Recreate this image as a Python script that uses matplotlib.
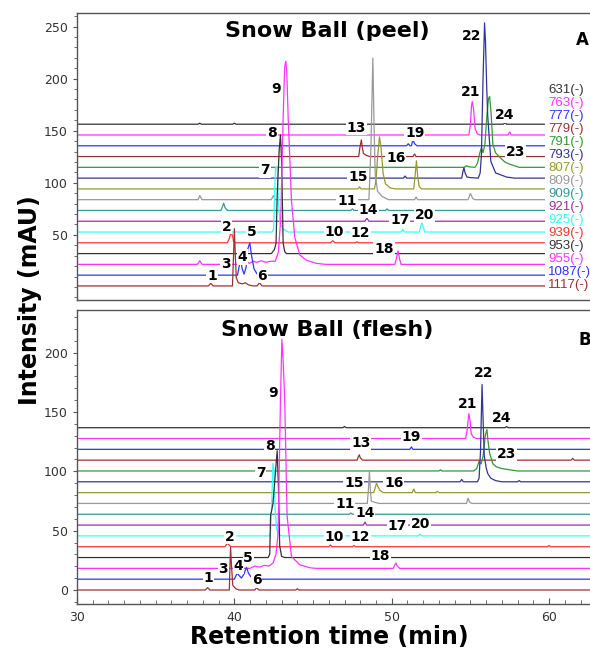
import matplotlib
matplotlib.use('Agg')
import matplotlib.pyplot as plt
from matplotlib.ticker import MultipleLocator, FixedLocator

plt.rcParams['font.family'] = 'DejaVu Sans'

# m/z channels, stacked from the top trace down to the baseline trace
channels = ['631', '763', '777', '779', '791', '793', '807', '809',
            '909', '921', '925', '939', '953', '955', '1087', '1117']
colors = ['#333333', '#ff33ff', '#3333ff', '#993333', '#339933', '#333399',
          '#999933', '#999999', '#339999', '#993399', '#33ffff', '#ff3333',
          '#333333', '#ff33ff', '#3333ff', '#993333']

# (retention time [min], intensity above the channel baseline [mAU])
peel = {
    '631': [(37.7, 0), (37.8, 1), (37.9, 0), (39.9, 0), (40.0, 1), (40.1, 0),
            (57.1, 0), (57.2, 1.5), (57.3, 0)],
    '763': [(54.9, 0), (55.0, 10), (55.07, 28), (55.12, 32), (55.2, 25), (55.3, 6),
            (55.45, 1), (55.6, 0), (57.4, 0), (57.5, 3), (57.6, 0)],
    '777': [(50.95, 0), (51.05, 2), (51.15, 0), (51.25, 0), (51.35, 6), (51.45, 2),
            (51.6, 0)],
    '779': [(47.9, 0), (47.97, 8), (48.07, 16), (48.12, 10), (48.2, 3), (48.4, 1),
            (48.6, 0), (51.35, 0), (51.45, 2.5), (51.55, 0)],
    '791': [(54.6, 0), (54.75, 1.5), (54.9, 0.5), (55.3, 0), (55.45, 4), (55.6, 14),
            (55.7, 19), (55.8, 14), (55.92, 22), (56.05, 50), (56.15, 66), (56.22, 68),
            (56.3, 55), (56.43, 22), (56.6, 14), (56.86, 9.7), (57.2, 5), (57.5, 3),
            (58.1, 0)],
    '793': [(50.75, 0), (50.85, 2), (50.95, 0), (54.45, 0), (54.52, 6), (54.59, 10),
            (54.66, 5), (54.78, 1), (55.0, 0.5), (55.5, 0), (55.62, 5), (55.7, 22),
            (55.8, 94), (55.9, 149), (55.96, 130), (56.03, 90), (56.1, 60), (56.3, 16),
            (56.6, 5), (57.3, 1), (57.8, 0)],
    '807': [(47.85, 0), (47.95, 2), (48.05, 0), (48.9, 0), (49.0, 8), (49.1, 30),
            (49.22, 50), (49.32, 40), (49.45, 15), (49.6, 5), (49.9, 1), (50.2, 0),
            (51.4, 0), (51.5, 15), (51.57, 27), (51.65, 12), (51.75, 2), (51.9, 0)],
    '809': [(37.7, 0), (37.8, 4), (37.95, 0), (42.35, 0), (42.48, 4), (42.6, 0),
            (48.55, 0), (48.68, 50), (48.8, 136), (48.88, 70), (48.95, 25), (49.1, 8),
            (49.4, 3), (49.8, 0), (51.45, 0), (51.55, 2.5), (51.65, 0), (54.85, 0),
            (55.0, 6), (55.15, 1), (55.3, 0)],
    '909': [(39.15, 0), (39.25, 4), (39.32, 7), (39.4, 3), (39.55, 0), (47.4, 0),
            (47.5, 1.5), (47.6, 0), (49.6, 0), (49.7, 1.5), (49.8, 0)],
    '921': [(48.3, 0), (48.42, 3), (48.55, 0)],
    '925': [(42.4, 0), (42.5, 3), (42.56, 40), (42.62, 62), (42.72, 62), (42.8, 30),
            (42.9, 8), (43.1, 3), (43.4, 0), (50.6, 0), (50.7, 2.5), (50.8, 0),
            (51.75, 0), (51.85, 6), (51.92, 9), (52.0, 5), (52.1, 0)],
    '939': [(39.55, 0), (39.65, 3), (39.75, 8), (39.82, 9), (39.9, 6), (39.95, 1),
            (40.05, 0), (46.1, 0), (46.25, 2), (46.4, 0), (47.7, 0), (47.8, 1),
            (47.9, 0)],
    '953': [(42.35, 0), (42.55, 4), (42.65, 10), (42.72, 55), (42.85, 100),
            (42.93, 114), (43.0, 90), (43.1, 10), (43.2, 2), (43.3, 0)],
    '955': [(37.65, 0), (37.8, 3.5), (37.95, 0), (40.6, 0), (40.75, 3), (40.95, 1),
            (41.2, 3), (41.45, 2), (41.7, 3.5), (42.0, 2), (42.3, 3), (42.6, 3),
            (42.8, 12), (42.95, 45), (43.1, 141), (43.2, 190), (43.27, 195),
            (43.33, 185), (43.42, 141), (43.63, 61), (43.84, 26), (44.16, 9),
            (44.58, 4), (45.2, 1), (45.8, 0), (50.2, 0), (50.3, 6), (50.4, 13),
            (50.5, 5), (50.6, 0)],
    '1087': [(40.2, 0), (40.3, 8), (40.4, 14), (40.5, 6), (40.62, 1), (40.75, 8),
             (40.85, 25), (40.98, 31), (41.1, 18), (41.25, 6), (41.45, 1), (41.7, 0)],
    '1117': [(38.35, 0), (38.5, 2.5), (38.65, 0), (39.88, 0), (39.95, 30),
             (40.0, 55), (40.06, 30), (40.12, 8), (40.25, 3), (40.5, 2), (40.7, 3),
             (40.9, 1), (41.2, 0), (41.45, 0), (41.6, 3), (41.75, 0)],
}

flesh = {
    '631': [(46.9, 0), (47.0, 1), (47.1, 0), (57.2, 0), (57.3, 1), (57.4, 0)],
    '763': [(54.7, 0), (54.8, 8), (54.9, 21), (54.98, 15), (55.05, 4), (55.2, 1),
            (55.4, 0)],
    '777': [(51.15, 0), (51.25, 2), (51.35, 0), (57.7, 0), (57.8, 2), (57.9, 0)],
    '779': [(47.8, 0), (47.88, 3), (47.94, 4.5), (48.0, 2), (48.15, 0), (61.4, 0),
            (61.5, 1.5), (61.6, 0)],
    '791': [(53.0, 0), (53.1, 1), (53.2, 0), (55.2, 0), (55.4, 2), (55.55, 8),
            (55.68, 6), (55.8, 12), (55.95, 30), (56.05, 35), (56.12, 25), (56.22, 15),
            (56.43, 6), (56.65, 3.5), (57.0, 2), (57.5, 1), (58.0, 0)],
    '793': [(54.35, 0), (54.45, 2), (54.55, 0), (55.45, 0), (55.55, 3), (55.64, 25),
            (55.74, 82), (55.8, 55), (55.88, 22), (56.0, 12), (56.1, 7), (56.3, 3),
            (56.6, 1), (57.0, 0), (58.0, 0), (58.1, 1), (58.2, 0)],
    '807': [(48.85, 0), (48.95, 4), (49.03, 8), (49.12, 5), (49.25, 2), (49.45, 0),
            (51.3, 0), (51.4, 3), (51.5, 0), (52.8, 0), (52.9, 1), (53.0, 0)],
    '809': [(48.45, 0), (48.52, 12), (48.58, 27), (48.64, 12), (48.7, 2), (48.9, 1),
            (49.2, 0), (54.75, 0), (54.85, 4.5), (54.95, 1), (55.1, 0)],
    '909': [(47.3, 0), (47.4, 1), (47.5, 0)],
    '921': [(48.2, 0), (48.3, 2.5), (48.4, 0)],
    '925': [(42.2, 0), (42.3, 3), (42.38, 30), (42.45, 61), (42.52, 55), (42.6, 20),
            (42.7, 5), (42.85, 1), (43.0, 0), (51.7, 0), (51.8, 1.5), (51.9, 0)],
    '939': [(39.4, 0), (39.5, 2), (39.6, 2.5), (39.7, 1), (39.8, 0), (46.0, 0),
            (46.1, 1.5), (46.2, 0), (47.5, 0), (47.6, 1), (47.7, 0), (59.9, 0),
            (60.0, 1), (60.1, 0)],
    '953': [(42.15, 0), (42.25, 3), (42.3, 35), (42.45, 45), (42.6, 70),
            (42.72, 90), (42.8, 60), (42.88, 10), (43.0, 1), (43.2, 0)],
    '955': [(41.0, 0), (41.3, 2), (41.6, 1), (41.9, 2.5), (42.2, 2), (42.46, 4.5),
            (42.65, 12), (42.78, 30), (42.93, 142), (43.02, 193), (43.1, 175),
            (43.2, 142), (43.35, 44), (43.63, 10), (44.16, 3), (44.8, 0.5), (45.2, 0),
            (50.1, 0), (50.2, 3), (50.27, 4.5), (50.35, 2), (50.5, 0)],
    '1087': [(40.0, 0), (40.1, 3), (40.2, 5), (40.3, 3), (40.45, 1), (40.6, 4),
             (40.77, 10), (40.9, 5), (41.05, 2), (41.3, 0)],
    '1117': [(38.15, 0), (38.3, 2), (38.45, 0), (39.68, 0), (39.72, 20), (39.76, 36),
             (39.82, 20), (39.9, 4), (40.1, 1), (40.3, 0), (41.3, 0), (41.42, 2),
             (41.55, 0), (43.9, 0), (44.0, 1), (44.1, 0)],
}

# peak numbers: (label, rt, intensity)
peel_labels = [('1', 38.57, 11), ('2', 39.5, 58), ('3', 39.46, 22), ('4', 40.52, 29),
               ('5', 41.09, 53), ('6', 41.77, 11), ('7', 41.94, 112), ('8', 42.4, 148),
               ('9', 42.68, 190), ('10', 46.34, 53), ('11', 47.16, 83), ('12', 48.01, 52),
               ('13', 47.76, 153), ('14', 48.5, 74), ('15', 47.86, 106), ('16', 50.25, 124),
               ('17', 50.51, 64), ('18', 49.51, 36), ('19', 51.46, 148), ('20', 52.1, 69),
               ('21', 55.02, 187), ('22', 55.06, 241), ('23', 57.87, 130), ('24', 57.17, 165)]
flesh_labels = [('1', 38.34, 10), ('2', 39.71, 45), ('3', 39.29, 18), ('4', 40.27, 20.5),
                ('5', 40.88, 27), ('6', 41.41, 8.5), ('7', 41.68, 99), ('8', 42.25, 121),
                ('9', 42.43, 166), ('10', 46.34, 45), ('11', 47.02, 72.5), ('12', 48.01, 45),
                ('13', 48.03, 124), ('14', 48.29, 64.6), ('15', 47.59, 90.4), ('16', 50.13, 90.4),
                ('17', 50.34, 54), ('18', 49.28, 28.6), ('19', 51.25, 129), ('20', 51.82, 56),
                ('21', 54.84, 157), ('22', 55.86, 183), ('23', 57.28, 114.6), ('24', 56.96, 144.6)]

x_min, x_max = 30, 62.6
grey = '#555555'


def draw_traces(ax, data, step, first, x_end):
    n = len(channels)
    for i, (ch, col) in enumerate(zip(channels, colors)):
        base = first + step * (n - 1 - i)
        pts = [(x_min, 0)] + data[ch] + [(x_end, 0)]
        xs = [p[0] for p in pts]
        ys = [base + p[1] for p in pts]
        ax.plot(xs, ys, color=col, lw=0.9, zorder=2 + i * 0.01)


def put_labels(ax, labels):
    for txt, x, y in labels:
        ax.text(x, y, txt, ha='center', va='center', fontsize=10, fontweight='bold',
                zorder=5, bbox=dict(fc='white', ec='none', pad=0.6))


def style_axes(ax, ylim, major):
    ax.set_xlim(x_min, x_max)
    ax.set_ylim(*ylim)
    ax.yaxis.set_major_locator(FixedLocator(major))
    ax.yaxis.set_minor_locator(MultipleLocator(10))
    ax.spines['right'].set_visible(False)
    for s in ax.spines.values():
        s.set_color(grey)
        s.set_linewidth(1.0)
    ax.tick_params(axis='y', which='both', direction='out', colors=grey,
                   labelcolor='#333333', labelsize=9)
    ax.tick_params(axis='y', which='major', length=3)
    ax.tick_params(axis='y', which='minor', length=2)


fig = plt.figure(figsize=(5.9, 6.53), dpi=100)
ax_a = fig.add_axes([77 / 590, 1 - 300 / 653, 513 / 590, 287 / 653])
ax_b = fig.add_axes([77 / 590, 1 - 604 / 653, 513 / 590, 294 / 653])

# A: peel
draw_traces(ax_a, peel, 10.35, 1.0, 59.7)
put_labels(ax_a, peel_labels)
style_axes(ax_a, (-12.5, 263), [50, 100, 150, 200, 250])
ax_a.set_xticks([])
ax_a.text(0.487, 0.937, 'Snow Ball (peel)', transform=ax_a.transAxes, ha='center',
          va='center', fontsize=16, fontweight='bold')
ax_a.text(0.985, 0.906, 'A', transform=ax_a.transAxes, ha='center', va='center',
          fontsize=12, fontweight='bold')
for k, (ch, col) in enumerate(zip(channels, colors)):
    ax_a.text(59.93, 188.75 - 12.45 * k, ch + '(-)', color=col, fontsize=9.5,
              family='Liberation Sans', ha='left', va='center')

# B: flesh
draw_traces(ax_b, flesh, 9.12, 0.0, x_max + 1)
put_labels(ax_b, flesh_labels)
style_axes(ax_b, (-11.8, 236), [0, 50, 100, 150, 200])
ax_b.xaxis.set_major_locator(FixedLocator([30, 40, 50, 60]))
ax_b.xaxis.set_minor_locator(MultipleLocator(1))
ax_b.tick_params(axis='x', which='both', direction='in', colors=grey,
                 labelcolor='#333333', labelsize=9, pad=5)
ax_b.tick_params(axis='x', which='major', length=4)
ax_b.tick_params(axis='x', which='minor', length=3)
ax_b.text(0.487, 0.932, 'Snow Ball (flesh)', transform=ax_b.transAxes, ha='center',
          va='center', fontsize=16, fontweight='bold')
ax_b.text(0.99, 0.898, 'B', transform=ax_b.transAxes, ha='center', va='center',
          fontsize=12, fontweight='bold')

fig.text(0.051, 0.541, 'Intensity (mAU)', rotation=90, ha='center', va='center',
         fontsize=17, fontweight='bold')
fig.text(0.559, 0.0245, 'Retention time (min)', ha='center', va='center',
         fontsize=17, fontweight='bold')

fig.savefig('out.png', dpi=100)
